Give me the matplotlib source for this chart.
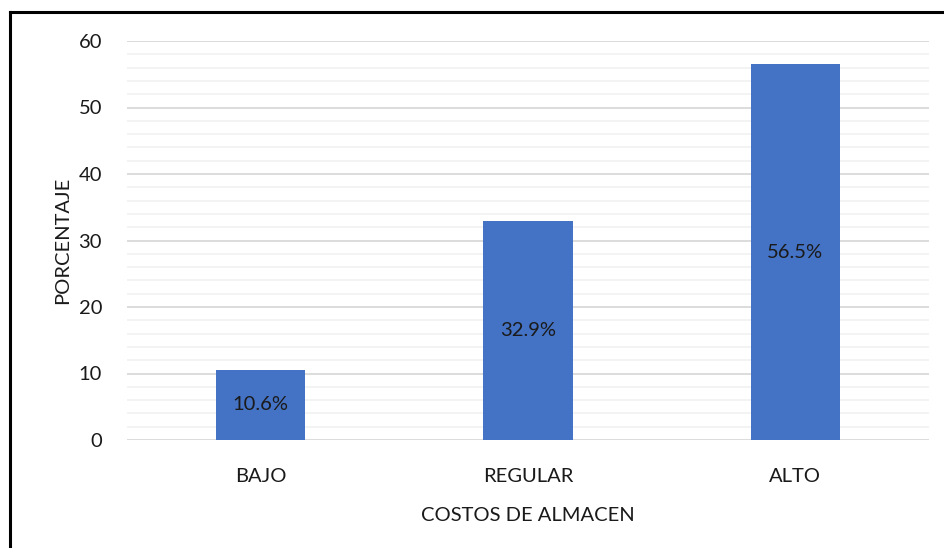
import matplotlib
matplotlib.use("Agg")
import matplotlib.pyplot as plt
from matplotlib.lines import Line2D
import numpy as np

categories = ["BAJO", "REGULAR", "ALTO"]
values = [10.6, 32.9, 56.5]
labels = ["10.6%", "32.9%", "56.5%"]

plt.rcParams["font.family"] = ["Lato", "DejaVu Sans"]
FS = 14.5

fig = plt.figure(figsize=(9.44, 5.48), dpi=100)
ax = fig.add_axes([127 / 944, 1 - 440 / 548, (929 - 127) / 944, 399 / 548])

x = np.arange(len(categories))
bars = ax.bar(x, values, width=0.333, color="#4472C4", zorder=3)
for b, lab in zip(bars, labels):
    ax.text(b.get_x() + b.get_width() / 2, b.get_height() / 2, lab,
            ha="center", va="center", fontsize=FS, color="#1a1a1a", zorder=4)

ax.set_xlim(-0.5, 2.5)
ax.set_ylim(0, 60)
ax.set_yticks(np.arange(0, 61, 10))
ax.set_yticks(np.arange(0, 61, 2), minor=True)
ax.grid(True, which="major", axis="y", color="#d9d9d9", linewidth=1.3, zorder=1)
ax.grid(True, which="minor", axis="y", color="#f2f2f2", linewidth=1.3, zorder=0)
ax.tick_params(axis="both", which="both", length=0, labelsize=FS, colors="#1a1a1a")
ax.tick_params(axis="y", pad=18)
ax.tick_params(axis="x", pad=20)
ax.set_xticks(x)
ax.set_xticklabels(categories)
for s in ax.spines.values():
    s.set_visible(False)

ax.set_ylabel("PORCENTAJE", fontsize=FS, color="#1a1a1a", labelpad=5)
ax.set_xlabel("COSTOS DE ALMACEN", fontsize=FS, color="#1a1a1a", labelpad=16)

# outer frame (left and top edges visible)
fig.add_artist(Line2D([10 / 944, 10 / 944], [0, 1 - 12 / 548], color="black", lw=2.2,
                      transform=fig.transFigure))
fig.add_artist(Line2D([10 / 944, 1], [1 - 12 / 548, 1 - 12 / 548], color="black", lw=2.2,
                      transform=fig.transFigure))

fig.savefig("out.png", dpi=100)
